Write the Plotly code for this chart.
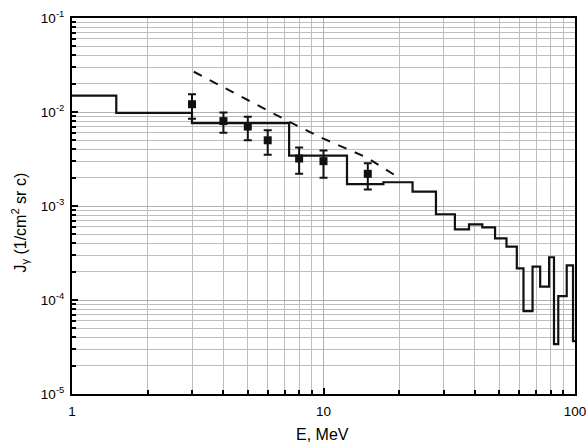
import plotly.graph_objects as go

# Histogram (step) data: bin edges and values
bin_edges = [1, 1.5, 3, 7.3, 12.4, 17.3, 22.6, 28, 33.3, 37.9, 42.8, 48.1, 53.4,
             58.7, 62.4, 67.8, 72.7, 78.9, 82.5, 85.8, 92.7, 98.2, 100]
bin_values = [0.0149, 0.0098, 0.0076, 0.00343, 0.00171, 0.00179, 0.00142, 0.000817,
              0.000565, 0.000638, 0.000593, 0.000453, 0.000369, 0.000217, 7.6e-5,
              0.000226, 0.000139, 0.000285, 3.4e-5, 0.00011, 0.000234, 3.66e-5]

# Experimental points with error bars
pt_E = [3, 4, 5, 6, 8, 10, 15]
pt_J = [0.0121, 0.0080, 0.0070, 0.0050, 0.0032, 0.0030, 0.0022]
pt_hi = [0.0154, 0.0099, 0.0089, 0.0064, 0.0042, 0.0039, 0.00285]
pt_lo = [0.0085, 0.0060, 0.0050, 0.0035, 0.0022, 0.0020, 0.0015]

# Dashed curve
dash_E = [3.05, 7.1, 10, 14.8, 20.1]
dash_J = [0.0268, 0.0082, 0.0052, 0.0033, 0.00197]

# Axis ticks
x_ticks = [1, 10, 100]
x_ticktext = ["1", "10", "100"]
y_ticks = [1e-5, 1e-4, 1e-3, 1e-2, 1e-1]
y_ticktext = ["10<sup>-5</sup>", "10<sup>-4</sup>", "10<sup>-3</sup>",
              "10<sup>-2</sup>", "10<sup>-1</sup>"]

x_minor = [m * d for d in (1, 10) for m in range(2, 10)]
y_minor = [m * d for d in (1e-5, 1e-4, 1e-3, 1e-2) for m in range(2, 10)]

FONT = "Liberation Sans, Arial, sans-serif"

fig = go.Figure()

fig.add_trace(go.Scatter(
    x=bin_edges, y=bin_values + [bin_values[-1]], mode="lines",
    line=dict(color="#111111", width=2.2, shape="hv"), showlegend=False))

fig.add_trace(go.Scatter(
    x=dash_E, y=dash_J, mode="lines",
    line=dict(color="#111111", width=2, dash="dash"), showlegend=False))

fig.add_trace(go.Scatter(
    x=pt_E, y=pt_J, mode="markers",
    marker=dict(symbol="square", size=8, color="#111111"),
    error_y=dict(type="data", symmetric=False,
                 array=[h - j for h, j in zip(pt_hi, pt_J)],
                 arrayminus=[j - l for l, j in zip(pt_lo, pt_J)],
                 color="#111111", thickness=2, width=4),
    showlegend=False))

axis_common = dict(
    showline=True, linecolor="black", linewidth=2, mirror=True,
    showgrid=True, gridcolor="#b0b0b0", gridwidth=1,
    ticks="inside", ticklen=6, tickwidth=1.5, tickcolor="black",
    zeroline=False, automargin=False, ticklabeloverflow="allow",
    tickfont=dict(family=FONT, size=13.5, color="black"),
)

fig.update_xaxes(
    type="log", range=[0, 2], tickvals=x_ticks, ticktext=x_ticktext,
    ticklabelstandoff=4,
    minor=dict(tickvals=x_minor, showgrid=True, gridcolor="#bdbdbd", gridwidth=1,
               ticks="inside", ticklen=4, tickcolor="black"),
    **axis_common)

fig.update_yaxes(
    type="log", range=[-5, -1], tickvals=y_ticks, ticktext=y_ticktext,
    ticklabelstandoff=3,
    minor=dict(tickvals=y_minor, showgrid=True, gridcolor="#bdbdbd", gridwidth=1,
               ticks="inside", ticklen=4, tickcolor="black"),
    **axis_common)

fig.add_annotation(
    text="E, MeV", xref="paper", yref="paper", x=0.4975, y=-0.1077,
    xanchor="center", yanchor="middle", showarrow=False,
    font=dict(family=FONT, size=16, color="black"))

fig.add_annotation(
    text="J<sub>γ</sub> (1/cm<sup>2</sup> sr c)", xref="paper", yref="paper",
    x=-0.1025, y=0.457, xanchor="center", yanchor="middle", textangle=-90,
    showarrow=False, font=dict(family=FONT, size=16, color="black"))

fig.update_layout(
    width=586, height=446,
    margin=dict(l=72, r=11, t=18, b=52),
    plot_bgcolor="white", paper_bgcolor="white",
)

fig.write_html("out.html")
